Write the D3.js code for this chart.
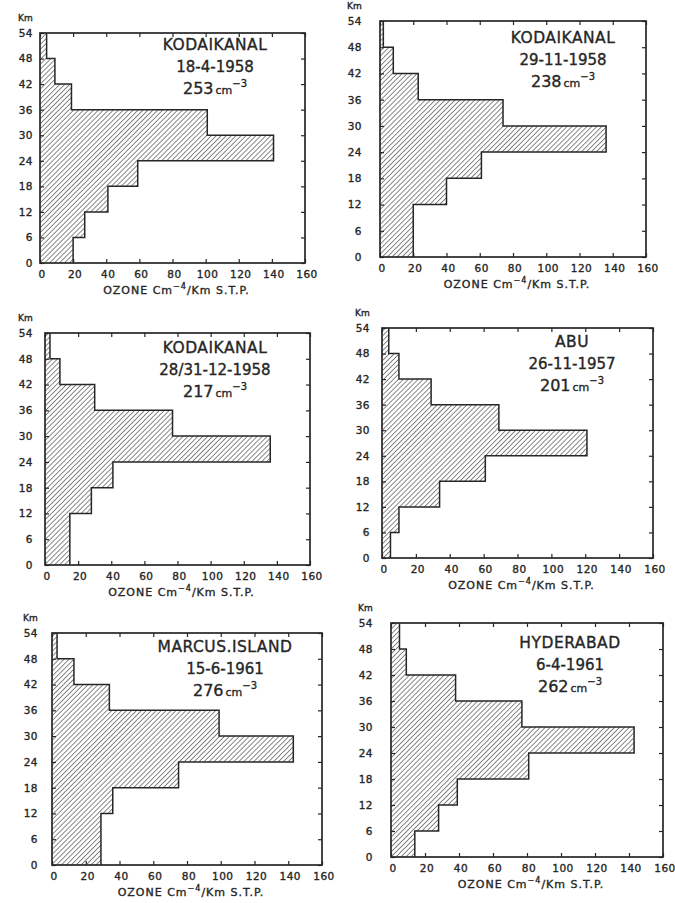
<!DOCTYPE html>
<html>
<head>
<meta charset="utf-8">
<title>Ozone profiles</title>
<script src="https://cdn.jsdelivr.net/npm/d3@7"></script>
<style>
  body { margin: 0; background: #fff; }
  text { font-family: "DejaVu Sans", sans-serif; fill: #262626; stroke: #262626; stroke-width: 0.35px; }
</style>
</head>
<body>
<div id="bodyVis"></div>
<script>
// altitude bins (km), lower edges, 6 km thick
var altLow = [0, 6, 12, 18, 24, 30, 36, 42, 48];
var binKm = 6;

// ozone per bin, cm^-4 / km S.T.P.
var kodai_18_4_1958   = [20, 27, 41, 59, 141, 101, 19, 9, 4];
var kodai_29_11_1958  = [20, 20, 40, 61, 136, 74, 23, 8, 2];
var kodai_28_12_1958  = [15, 15, 28, 41, 136, 77, 30, 9, 3];
var abu_26_11_1957    = [5, 10, 34, 61, 121, 69, 29, 10, 4];
var marcus_15_6_1961  = [29, 29, 36, 75, 143, 99, 34, 13, 3];
var hyder_6_4_1961    = [14, 28, 39, 81, 143, 77, 38, 9, 5];

var stations = ["KODAIKANAL", "KODAIKANAL", "KODAIKANAL", "ABU", "MARCUS.ISLAND", "HYDERABAD"];
var dates = ["18-4-1958", "29-11-1958", "28/31-12-1958", "26-11-1957", "15-6-1961", "6-4-1961"];
var totals = [253, 238, 217, 201, 276, 262];
var profiles = [kodai_18_4_1958, kodai_29_11_1958, kodai_28_12_1958, abu_26_11_1957, marcus_15_6_1961, hyder_6_4_1961];

var xTicks = [0, 20, 40, 60, 80, 100, 120, 140, 160];
var yTicks = [0, 6, 12, 18, 24, 30, 36, 42, 48, 54];

// frame boxes + where the text sits, per panel
var layout = [
  { left: 40,  top: 33,  right: 305, bottom: 263, gap: 7,  tx: 215, ty: 50 },
  { left: 380, top: 21,  right: 646, bottom: 257, gap: 18, tx: 563, ty: 43 },
  { left: 45,  top: 333, right: 310, bottom: 565, gap: 12, tx: 215, ty: 353 },
  { left: 382, top: 328, right: 653, bottom: 558, gap: 12, tx: 572, ty: 347 },
  { left: 52,  top: 633, right: 322, bottom: 865, gap: 14, tx: 225, ty: 652 },
  { left: 391, top: 623, right: 663, bottom: 857, gap: 18, tx: 570, ty: 648 }
];

var ink = "#262626";

var svg = d3.select("#bodyVis").append("svg")
  .attr("width", 675)
  .attr("height", 903);

svg.append("rect").attr("width", 675).attr("height", 903).attr("fill", "#fff");

// diagonal hatching
var pat = svg.append("defs").append("pattern")
  .attr("id", "hatch")
  .attr("patternUnits", "userSpaceOnUse")
  .attr("width", 3.5)
  .attr("height", 3.5)
  .attr("patternTransform", "rotate(45)");
pat.append("line")
  .attr("x1", 0).attr("y1", 0).attr("x2", 0).attr("y2", 3.5)
  .attr("stroke", ink)
  .attr("stroke-width", 1.1);

function drawPanel(idx) {
  var L = layout[idx];
  var values = profiles[idx];
  var g = svg.append("g").attr("class", "panel panel-" + idx);

  var x = d3.scaleLinear().domain([0, 160]).range([L.left, L.right]);
  var y = d3.scaleLinear().domain([0, 54]).range([L.bottom, L.top]);

  // hatched bars
  g.selectAll("rect.bar")
    .data(values)
    .enter()
    .append("rect")
    .attr("class", "bar")
    .attr("x", x(0))
    .attr("y", function(d, i) { return y(altLow[i] + binKm); })
    .attr("width", function(d) { return x(d) - x(0); })
    .attr("height", function(d, i) { return y(altLow[i]) - y(altLow[i] + binKm); })
    .attr("fill", "url(#hatch)");

  // step outline of the profile
  var pts = [];
  values.forEach(function(v, i) {
    pts.push([v, altLow[i]]);
    pts.push([v, altLow[i] + binKm]);
  });
  var line = d3.line()
    .x(function(d) { return x(d[0]); })
    .y(function(d) { return y(d[1]); });
  g.append("path")
    .attr("d", line(pts))
    .attr("fill", "none")
    .attr("stroke", ink)
    .attr("stroke-width", 1.5);

  // axes, ticks pointing inward
  var ax = g.append("g")
    .attr("transform", "translate(0," + L.bottom + ")")
    .call(d3.axisBottom(x).tickValues(xTicks).tickSize(-4).tickPadding(8));
  ax.selectAll("text").attr("dx", 1.5);

  g.append("g")
    .attr("transform", "translate(0," + L.top + ")")
    .call(d3.axisTop(x).tickValues(xTicks).tickSize(-4).tickFormat(""));

  g.append("g")
    .attr("transform", "translate(" + L.left + ",0)")
    .call(d3.axisLeft(y).tickValues(yTicks).tickSize(-4).tickPadding(L.gap));

  g.append("g")
    .attr("transform", "translate(" + L.right + ",0)")
    .call(d3.axisRight(y).tickValues(yTicks).tickSize(-4).tickFormat(""));

  g.selectAll(".domain").remove();
  g.selectAll(".tick line").attr("stroke", ink).attr("stroke-width", 1.2);
  g.selectAll(".tick text")
    .attr("font-family", "DejaVu Sans, sans-serif")
    .attr("font-size", 10.5)
    .attr("letter-spacing", 0.5)
    .attr("fill", ink);

  // frame
  g.append("rect")
    .attr("x", L.left)
    .attr("y", L.top)
    .attr("width", L.right - L.left)
    .attr("height", L.bottom - L.top)
    .attr("fill", "none")
    .attr("stroke", ink)
    .attr("stroke-width", 1.7);

  g.append("text")
    .attr("x", L.left - L.gap - 15)
    .attr("y", L.top - 12)
    .attr("font-size", 9)
    .text("Km");

  var lab = g.append("text")
    .attr("x", (L.left + L.right) / 2 + 4)
    .attr("y", L.bottom + 31)
    .attr("text-anchor", "middle")
    .attr("font-size", 11)
    .attr("letter-spacing", 1);
  lab.append("tspan").text("OZONE  Cm");
  lab.append("tspan").attr("font-size", 8).attr("dy", -5).text("\u22124");
  lab.append("tspan").attr("dy", 5).text("/Km  S.T.P.");

  // station / date / total
  g.append("text")
    .attr("x", L.tx)
    .attr("y", L.ty)
    .attr("text-anchor", "middle")
    .attr("font-size", 15.5)
    .attr("letter-spacing", 0.5)
    .text(stations[idx]);

  g.append("text")
    .attr("x", L.tx)
    .attr("y", L.ty + 22)
    .attr("text-anchor", "middle")
    .attr("font-size", 15)
    .text(dates[idx]);

  var tot = g.append("text")
    .attr("x", L.tx)
    .attr("y", L.ty + 44)
    .attr("text-anchor", "middle")
    .attr("font-size", 16);
  tot.append("tspan").text(totals[idx]);
  tot.append("tspan").attr("font-size", 11).attr("dx", 2).text("cm");
  tot.append("tspan").attr("font-size", 10).attr("dy", -7).text("\u22123");
}

profiles.forEach(function(p, i) {
  drawPanel(i);
});
console.log("drew " + profiles.length + " panels");
</script>
</body>
</html>
